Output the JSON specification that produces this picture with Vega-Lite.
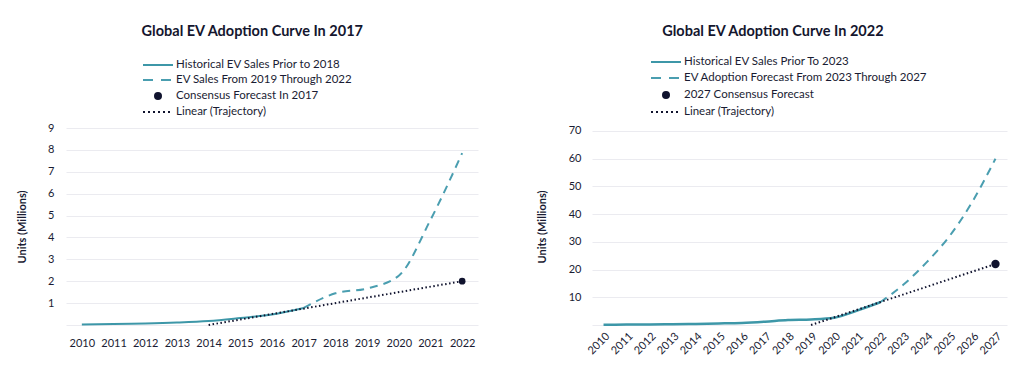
{
  "$schema": "https://vega.github.io/schema/vega-lite/v6.json",
  "background": "white",
  "padding": {"left": 16, "top": 23, "right": 5, "bottom": 5},
  "spacing": 58,
  "resolve": {"scale": {"color": "independent"}, "legend": {"color": "independent"}},
  "config": {
    "font": "Lato",
    "view": {"stroke": null},
    "axis": {"labelColor": "#1a1c33", "labelFontSize": 11, "titleColor": "#1a1c33", "gridColor": "#ebebf0", "domain": false, "ticks": false},
    "title": {"color": "#14162e", "fontSize": 14.5, "fontWeight": "bold", "anchor": "start"},
    "legend": {"labelColor": "#1a1c33", "labelFontSize": 11.5, "labelLimit": 400}
  },
  "datasets": {
    "y2017": [
      {"year": "2010", "value": 0.02, "series": "Historical EV Sales Prior to 2018"},
      {"year": "2011", "value": 0.05, "series": "Historical EV Sales Prior to 2018"},
      {"year": "2012", "value": 0.07, "series": "Historical EV Sales Prior to 2018"},
      {"year": "2013", "value": 0.11, "series": "Historical EV Sales Prior to 2018"},
      {"year": "2014", "value": 0.18, "series": "Historical EV Sales Prior to 2018"},
      {"year": "2015", "value": 0.32, "series": "Historical EV Sales Prior to 2018"},
      {"year": "2016", "value": 0.48, "series": "Historical EV Sales Prior to 2018"},
      {"year": "2017", "value": 0.78, "series": "Historical EV Sales Prior to 2018"},
      {"year": "2017", "value": 0.78, "series": "EV Sales From 2019 Through 2022"},
      {"year": "2018", "value": 1.45, "series": "EV Sales From 2019 Through 2022"},
      {"year": "2019", "value": 1.67, "series": "EV Sales From 2019 Through 2022"},
      {"year": "2020", "value": 2.25, "series": "EV Sales From 2019 Through 2022"},
      {"year": "2021", "value": 4.8, "series": "EV Sales From 2019 Through 2022"},
      {"year": "2022", "value": 7.85, "series": "EV Sales From 2019 Through 2022"},
      {"year": "2022", "value": 2.0, "series": "Consensus Forecast In 2017"},
      {"year": "2014", "value": 0.0, "series": "Linear (Trajectory)"},
      {"year": "2022", "value": 2.0, "series": "Linear (Trajectory)"}
    ],
    "y2022": [
      {"year": "2010", "value": 0.1, "series": "Historical EV Sales Prior To 2023"},
      {"year": "2011", "value": 0.15, "series": "Historical EV Sales Prior To 2023"},
      {"year": "2012", "value": 0.2, "series": "Historical EV Sales Prior To 2023"},
      {"year": "2013", "value": 0.3, "series": "Historical EV Sales Prior To 2023"},
      {"year": "2014", "value": 0.4, "series": "Historical EV Sales Prior To 2023"},
      {"year": "2015", "value": 0.55, "series": "Historical EV Sales Prior To 2023"},
      {"year": "2016", "value": 0.75, "series": "Historical EV Sales Prior To 2023"},
      {"year": "2017", "value": 1.2, "series": "Historical EV Sales Prior To 2023"},
      {"year": "2018", "value": 1.8, "series": "Historical EV Sales Prior To 2023"},
      {"year": "2019", "value": 2.0, "series": "Historical EV Sales Prior To 2023"},
      {"year": "2020", "value": 2.6, "series": "Historical EV Sales Prior To 2023"},
      {"year": "2021", "value": 5.2, "series": "Historical EV Sales Prior To 2023"},
      {"year": "2022", "value": 8.2, "series": "Historical EV Sales Prior To 2023"},
      {"year": "2022", "value": 8.2, "series": "EV Adoption Forecast From 2023 Through 2027"},
      {"year": "2023", "value": 14.5, "series": "EV Adoption Forecast From 2023 Through 2027"},
      {"year": "2024", "value": 22.5, "series": "EV Adoption Forecast From 2023 Through 2027"},
      {"year": "2025", "value": 32, "series": "EV Adoption Forecast From 2023 Through 2027"},
      {"year": "2026", "value": 44.5, "series": "EV Adoption Forecast From 2023 Through 2027"},
      {"year": "2027", "value": 60, "series": "EV Adoption Forecast From 2023 Through 2027"},
      {"year": "2027", "value": 22, "series": "2027 Consensus Forecast"},
      {"year": "2019", "value": 0, "series": "Linear (Trajectory)"},
      {"year": "2027", "value": 22, "series": "Linear (Trajectory)"}
    ]
  },
  "hconcat": [
    {
      "width": 412,
      "height": 197,
      "title": {"text": "Global EV Adoption Curve In 2017", "dx": 125, "offset": 20},
      "data": {"name": "y2017"},
      "encoding": {
        "x": {"field": "year", "type": "ordinal", "scale": {"type": "point", "padding": 0.5}, "axis": {"title": null, "labelAngle": 0, "labelPadding": 12}},
        "y": {"field": "value", "type": "quantitative", "scale": {"domain": [0, 9]}, "axis": {"title": "Units (Millions)", "titleFontSize": 11, "titleFontWeight": "bold", "titlePadding": 20, "tickCount": 9, "labelPadding": 12, "labelExpr": "datum.value == 0 ? '' : datum.label"}},
        "color": {
          "field": "series", "type": "nominal",
          "scale": {"domain": ["Historical EV Sales Prior to 2018", "EV Sales From 2019 Through 2022", "Consensus Forecast In 2017", "Linear (Trajectory)"], "range": ["#3d97a8", "#4a9eb0", "#10132e", "#10132e"]},
          "legend": {
            "title": null, "orient": "none", "legendX": 77, "legendY": -69, "symbolType": "stroke", "symbolSize": 100, "symbolStrokeWidth": 2, "rowPadding": 3, "labelOffset": 21,
            "encode": {"symbols": {"update": {
              "x": {"value": 15},
              "shape": {"signal": "datum.value === 'Consensus Forecast In 2017' ? 'M-0.6,0A0.6,0.6 0 1,0 0.6,0A0.6,0.6 0 1,0 -0.6,0Z' : 'M-3,0L3,0'"},
              "fill": {"signal": "datum.value === 'Consensus Forecast In 2017' ? '#10132e' : 'transparent'"},
              "strokeDash": {"signal": "datum.value === 'EV Sales From 2019 Through 2022' ? [10, 8] : datum.value === 'Linear (Trajectory)' ? [2, 3] : []"}
            }}}
          }
        }
      },
      "layer": [
        {"transform": [{"filter": "datum.series === 'Historical EV Sales Prior to 2018'"}], "mark": {"type": "line", "strokeWidth": 2, "interpolate": "monotone"}},
        {"transform": [{"filter": "datum.series === 'EV Sales From 2019 Through 2022'"}], "mark": {"type": "line", "strokeWidth": 2, "strokeDash": [8, 6], "interpolate": "monotone"}},
        {"transform": [{"filter": "datum.series === 'Linear (Trajectory)'"}], "mark": {"type": "line", "strokeWidth": 2, "strokeDash": [1.5, 2.5]}},
        {"transform": [{"filter": "datum.series === 'Consensus Forecast In 2017'"}], "mark": {"type": "point", "filled": true, "size": 45, "opacity": 1}}
      ]
    },
    {
      "width": 415,
      "height": 197,
      "title": {"text": "Global EV Adoption Curve In 2022", "dx": 126, "offset": 17},
      "data": {"name": "y2022"},
      "encoding": {
        "x": {"field": "year", "type": "ordinal", "scale": {"type": "point", "padding": 0.5}, "axis": {"title": null, "labelAngle": -45, "labelPadding": 5}},
        "y": {"field": "value", "type": "quantitative", "scale": {"domain": [0, 71.08], "nice": false}, "axis": {"title": "Units (Millions)", "titleFontSize": 11, "titleFontWeight": "bold", "titlePadding": 21, "values": [0, 10, 20, 30, 40, 50, 60, 70], "labelPadding": 11, "labelExpr": "datum.value == 0 ? '' : datum.label"}},
        "color": {
          "field": "series", "type": "nominal",
          "scale": {"domain": ["Historical EV Sales Prior To 2023", "EV Adoption Forecast From 2023 Through 2027", "2027 Consensus Forecast", "Linear (Trajectory)"], "range": ["#3d97a8", "#4a9eb0", "#10132e", "#10132e"]},
          "legend": {
            "title": null, "orient": "none", "legendX": 59, "legendY": -72, "symbolType": "stroke", "symbolSize": 100, "symbolStrokeWidth": 2, "rowPadding": 4, "labelOffset": 21,
            "encode": {"symbols": {"update": {
              "x": {"value": 15},
              "shape": {"signal": "datum.value === '2027 Consensus Forecast' ? 'M-0.6,0A0.6,0.6 0 1,0 0.6,0A0.6,0.6 0 1,0 -0.6,0Z' : 'M-3,0L3,0'"},
              "fill": {"signal": "datum.value === '2027 Consensus Forecast' ? '#10132e' : 'transparent'"},
              "strokeDash": {"signal": "datum.value === 'EV Adoption Forecast From 2023 Through 2027' ? [10, 8] : datum.value === 'Linear (Trajectory)' ? [2, 3] : []"}
            }}}
          }
        }
      },
      "layer": [
        {"transform": [{"filter": "datum.series === 'Historical EV Sales Prior To 2023'"}], "mark": {"type": "line", "strokeWidth": 2.5, "interpolate": "monotone"}},
        {"transform": [{"filter": "datum.series === 'EV Adoption Forecast From 2023 Through 2027'"}], "mark": {"type": "line", "strokeWidth": 2, "strokeDash": [8, 6], "interpolate": "monotone"}},
        {"transform": [{"filter": "datum.series === 'Linear (Trajectory)'"}], "mark": {"type": "line", "strokeWidth": 2, "strokeDash": [1.5, 2.5]}},
        {"transform": [{"filter": "datum.series === '2027 Consensus Forecast'"}], "mark": {"type": "point", "filled": true, "size": 70, "opacity": 1}}
      ]
    }
  ]
}
